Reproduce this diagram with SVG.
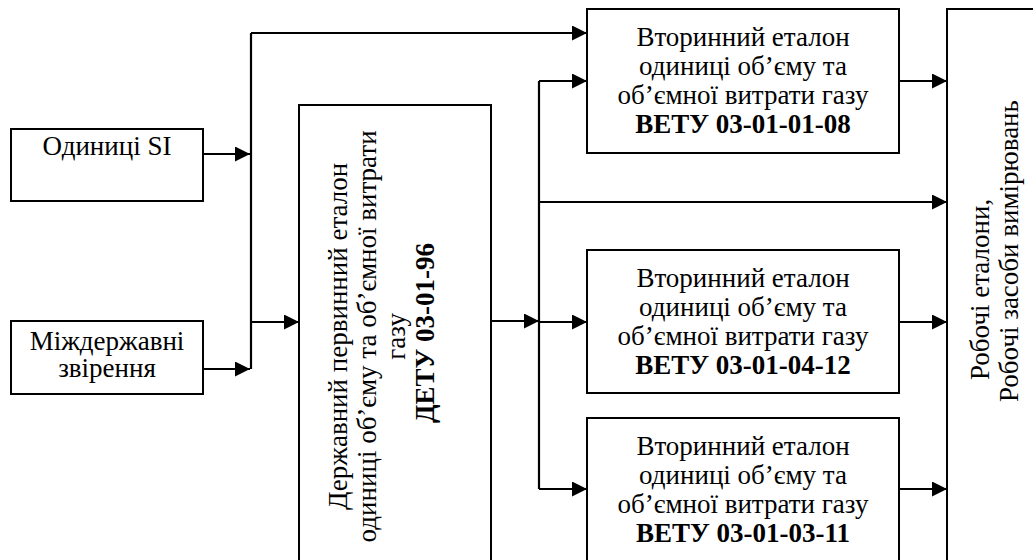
<svg xmlns="http://www.w3.org/2000/svg" width="1033" height="560" viewBox="0 0 1033 560">
<style>
.box{fill:#fff;stroke:#000;stroke-width:2}
.t{font-family:'Liberation Serif','Times New Roman',serif;font-size:27px;fill:#000}
.c{text-anchor:middle}
.b{font-weight:bold}
.ln{fill:none;stroke:#000;stroke-width:2.2}
</style>
<defs>
<marker id="ah" markerUnits="userSpaceOnUse" markerWidth="15" markerHeight="15" refX="15" refY="7.5" orient="auto" viewBox="0 0 15 15">
<path d="M0,0 L15,7.5 L0,15 z" fill="#000"/>
</marker>
</defs>
<rect width="1033" height="560" fill="#fff"/>
<g id="connectors">
<path class="ln" d="M251,33 V369"/>
<path class="ln" d="M203,154 H250" marker-end="url(#ah)"/>
<path class="ln" d="M203,369 H250" marker-end="url(#ah)"/>
<path class="ln" d="M251,33 H587" marker-end="url(#ah)"/>
<path class="ln" d="M251,322 H299" marker-end="url(#ah)"/>
<path class="ln" d="M491,321 H539" marker-end="url(#ah)"/>
<path class="ln" d="M539,81 V489"/>
<path class="ln" d="M539,81 H587" marker-end="url(#ah)"/>
<path class="ln" d="M539,322 H587" marker-end="url(#ah)"/>
<path class="ln" d="M539,489 H587" marker-end="url(#ah)"/>
<path class="ln" d="M539,202 H947" marker-end="url(#ah)"/>
<path class="ln" d="M899,81 H947" marker-end="url(#ah)"/>
<path class="ln" d="M899,322 H947" marker-end="url(#ah)"/>
<path class="ln" d="M899,489 H947" marker-end="url(#ah)"/>
</g>
<g id="si">
<rect class="box" x="11" y="129" width="192" height="72"/>
<text class="t c" x="107" y="155">Одиниці SI</text>
</g>
<g id="interstate">
<rect class="box" x="11" y="321" width="192" height="73"/>
<text class="t c" x="107" y="350">Міждержавні</text>
<text class="t c" x="107" y="377">звірення</text>
</g>
<g id="primary">
<rect class="box" x="299" y="105" width="192" height="480"/>
<text class="t c" transform="translate(0,333) rotate(-90)">
<tspan x="0" y="347">Державний первинний еталон</tspan>
<tspan x="0" y="376">одиниці об’єму та об’ємної витрати</tspan>
<tspan x="0" y="405">газу</tspan>
<tspan x="0" y="434" class="b">ДЕТУ 03-01-96</tspan>
</text>
</g>
<g id="secondary1">
<rect class="box" x="587" y="9" width="312" height="144"/>
<text class="t c" x="743" y="46">Вторинний еталон</text>
<text class="t c" x="743" y="75">одиниці об’єму та</text>
<text class="t c" x="743" y="104">об’ємної витрати газу</text>
<text class="t c b" x="743" y="133">ВЕТУ 03-01-01-08</text>
</g>
<g id="secondary2">
<rect class="box" x="587" y="250" width="312" height="143"/>
<text class="t c" x="743" y="287">Вторинний еталон</text>
<text class="t c" x="743" y="316">одиниці об’єму та</text>
<text class="t c" x="743" y="345">об’ємної витрати газу</text>
<text class="t c b" x="743" y="374">ВЕТУ 03-01-04-12</text>
</g>
<g id="secondary3">
<rect class="box" x="587" y="418" width="312" height="160"/>
<text class="t c" x="743" y="455">Вторинний еталон</text>
<text class="t c" x="743" y="484">одиниці об’єму та</text>
<text class="t c" x="743" y="513">об’ємної витрати газу</text>
<text class="t c b" x="743" y="542">ВЕТУ 03-01-03-11</text>
</g>
<g id="working">
<rect class="box" x="947" y="9" width="100" height="570"/>
<text class="t" transform="rotate(-90)">
<tspan x="-380" y="989">Робочі еталони,</tspan>
<tspan x="-402" y="1018">Робочі засоби вимірювань</tspan>
</text>
</g>
</svg>
